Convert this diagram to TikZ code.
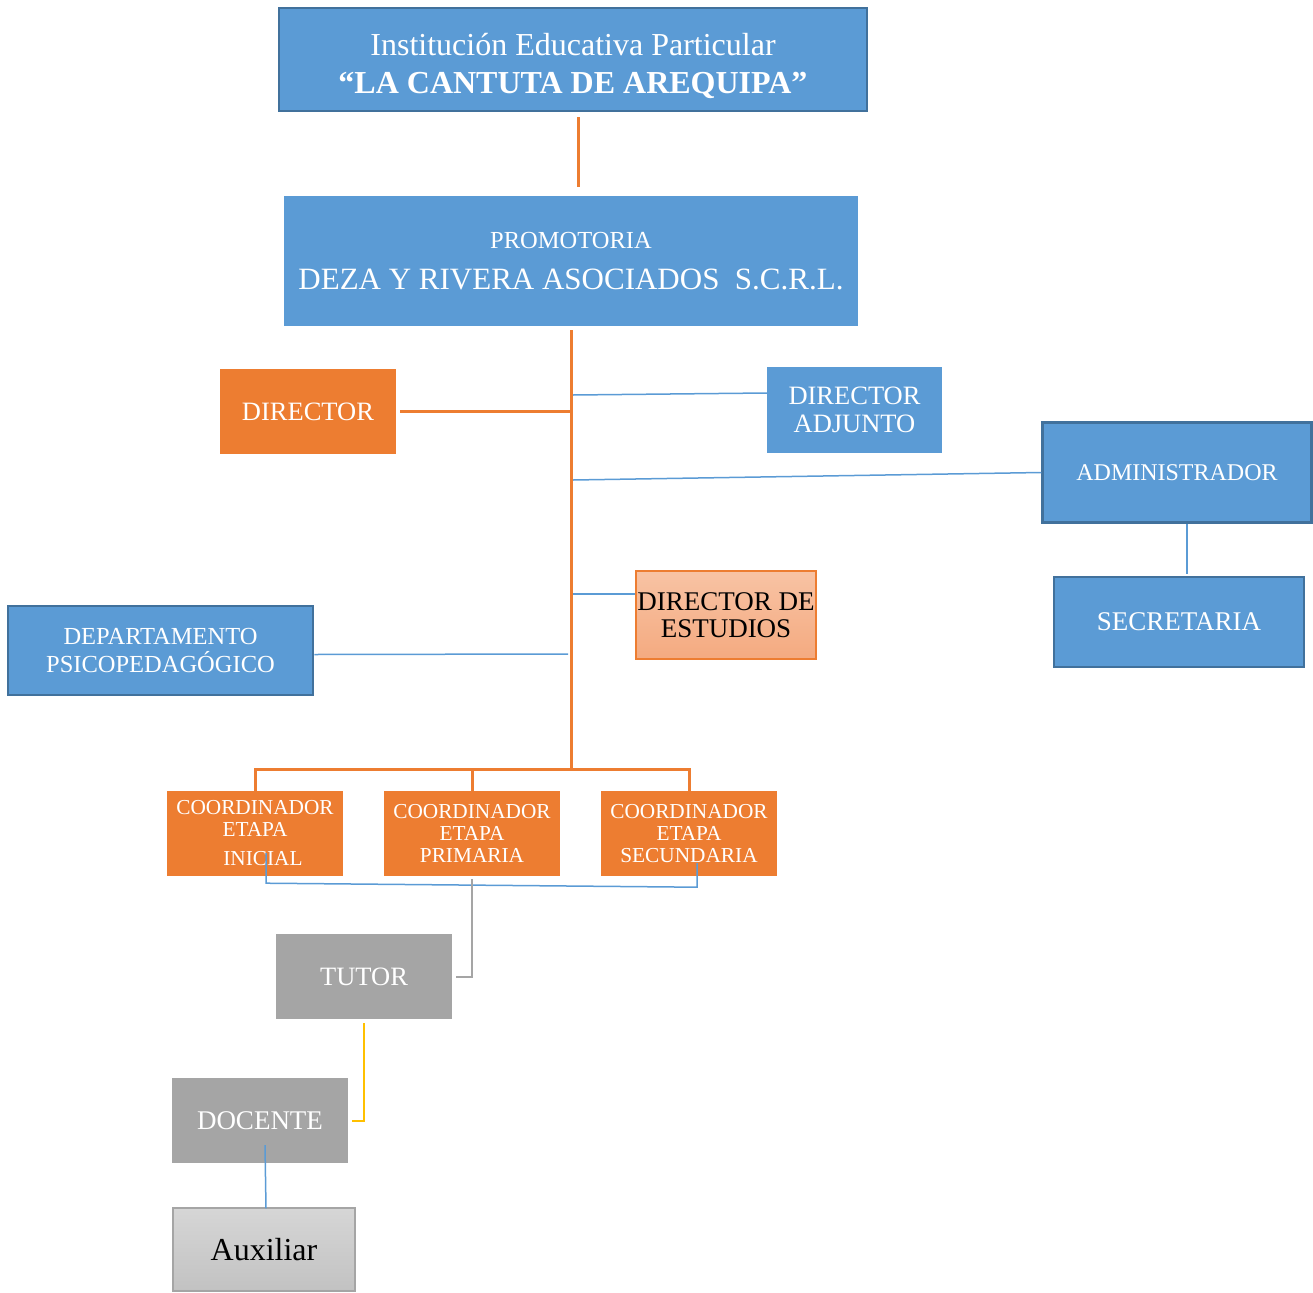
\documentclass[tikz,border=0pt]{standalone}
\usepackage{fontspec}
\setmainfont{Liberation Serif}
\usetikzlibrary{calc}
\definecolor{bfill}{HTML}{5B9BD5}
\definecolor{bdark}{HTML}{41719C}
\definecolor{ofill}{HTML}{ED7D31}
\definecolor{gfill}{HTML}{A5A5A5}
\definecolor{yline}{HTML}{FFC000}
\definecolor{salmtop}{HTML}{F8C3A4}
\definecolor{salmbot}{HTML}{F4AA80}
\definecolor{auxtop}{HTML}{D6D6D6}
\definecolor{auxbot}{HTML}{C2C2C2}
\begin{document}
\begin{tikzpicture}[x=1pt,y=-1pt,
  box/.style={rectangle, inner sep=0pt, align=center, text=white,
    font=\fontsize{26.5}{28}\selectfont},
  bluebox/.style={box, fill=bfill},
  blueframed/.style={bluebox, draw=bdark, line width=2.5pt},
  orangebox/.style={box, fill=ofill},
  coordbox/.style={orangebox, font=\fontsize{21.3}{22}\selectfont, minimum width=176, minimum height=85},
  graybox/.style={box, fill=gfill},
  oline/.style={draw=ofill, line width=3pt},
  bline/.style={draw=bfill, line width=1.5pt},
  gline/.style={draw=gfill, line width=2pt},
  ylinestyle/.style={draw=yline, line width=2pt}]
\useasboundingbox (0,0) rectangle (1313,1292);

% boxes
\node[blueframed, minimum width=588, minimum height=103, font=\fontsize{32}{38}\selectfont] (inst) at (573,59.5)
  {\rule{0pt}{36pt}Institución Educativa Particular\\
   \bfseries “LA CANTUTA DE AREQUIPA”};
\node[bluebox, minimum width=574, minimum height=130, font=\fontsize{31}{38}\selectfont] (promo) at (571,261)
  {{\fontsize{24.5}{38}\selectfont PROMOTORIA}\\[3pt]
   DEZA Y RIVERA ASOCIADOS\ \ S.C.R.L.};
\node[orangebox, minimum width=176, minimum height=85] (dir) at (308,411.5) {DIRECTOR};
\node[bluebox, minimum width=175, minimum height=86] (adj) at (854.5,410) {DIRECTOR\\ADJUNTO};
\node[blueframed, minimum width=269, minimum height=100, font=\fontsize{24}{28}\selectfont] (adm) at (1177,472.5) {ADMINISTRADOR};
\node[blueframed, minimum width=250, minimum height=90, font=\fontsize{27}{28}\selectfont] (sec) at (1179,622) {SECRETARIA};
\node[box, text=black, draw=ofill, line width=1.5pt, top color=salmtop, bottom color=salmbot,
  minimum width=180, minimum height=88, font=\fontsize{27}{27}\selectfont] (est) at (726,615) {DIRECTOR DE\\ESTUDIOS};
\node[blueframed, minimum width=305, minimum height=89, font=\fontsize{24.5}{28}\selectfont] (dep) at (160.5,650.5) {DEPARTAMENTO\\PSICOPEDAG\'OGICO};
\node[coordbox] (c1) at (255,833.5) {COORDINADOR\\ETAPA\\[7pt]\hspace*{16pt}INICIAL};
\node[coordbox] (c2) at (472,833.5) {COORDINADOR\\ETAPA\\PRIMARIA};
\node[coordbox] (c3) at (689,833.5) {COORDINADOR\\ETAPA\\SECUNDARIA};
\node[graybox, minimum width=176, minimum height=85] (tutor) at (364,976.5) {TUTOR};
\node[graybox, minimum width=176, minimum height=85, font=\fontsize{27}{28}\selectfont] (doc) at (260,1120.5) {DOCENTE};
\node[box, text=black, draw=gfill, line width=1.2pt, top color=auxtop, bottom color=auxbot,
  minimum width=182, minimum height=83, font=\fontsize{32}{32}\selectfont] (aux) at (264,1249.5) {Auxiliar};

% junction coordinates on the spine
\coordinate (spb) at (571,770);
\coordinate (jadj) at (573,395);
\coordinate (jadm) at (573,480);
\coordinate (jest) at (573,594);
\coordinate (jdep) at (568,654);

% connectors
\draw[oline] ($(inst.south)+(5,5)$) -- ($(promo.north)+(7,-9)$);
\draw[oline] ($(promo.south)+(0,4)$) -- (spb);
\draw[oline] ($(dir.east)+(4,0)$) -- (dir.east -| spb);
\draw[bline] (jadj) -- ($(adj.west)+(0,-17)$);
\draw[bline] (jadm) -- (adm.west);
\draw[bline] (jest) -- (est.west |- jest);
\draw[bline] ($(dep.east)+(0,4)$) -- (jdep);
\draw[bline] ($(adm.south)+(10,0)$) -- ($(sec.north)+(8,-2)$);
\draw[oline] (c1.north) -- ++(0,-21) -| (c3.north);
\draw[oline] (c2.north) -- ++(0,-21);
\draw[bline] ($(c1.south)+(11,-23)$) -- ($(c1.south)+(11,7)$) -- ($(c3.south)+(8,11)$) -- ($(c3.south)+(8,-13)$);
\draw[gline] ($(c2.south)+(0,3)$) |- ($(tutor.east)+(4,0)$);
\draw[ylinestyle] ($(tutor.south)+(0,4)$) |- ($(doc.east)+(4,0)$);
\draw[bline] ($(doc.south)+(5,-18)$) -- ($(aux.north)+(2,1)$);
\end{tikzpicture}
\end{document}
